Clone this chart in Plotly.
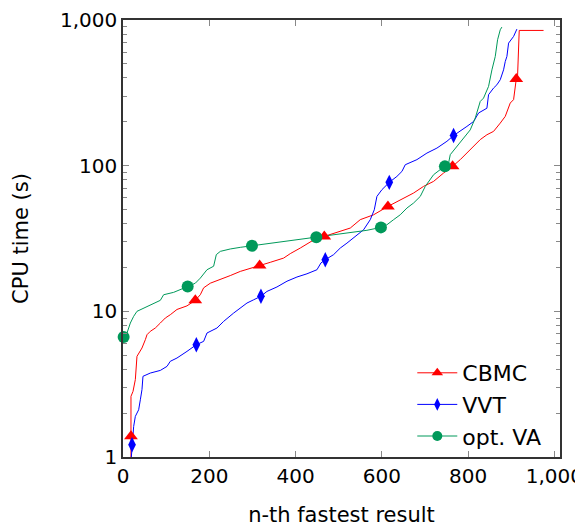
import plotly.graph_objects as go

# ---------------- data ----------------
cbmc_x = [18.5, 18.5, 18.5, 23.2, 28.6, 32.4, 38.6, 44.0, 51.8, 55.6, 63.3, 74.9, 86.5, 98.1,
          109.7, 125.1, 148.3, 167.6, 179.2, 186.9, 202.4, 225.6, 248.7, 271.9, 295.1, 316.7,
          341.4, 372.3, 387.8, 411.0, 434.1, 449.6, 466.6, 503.7, 526.8, 550.0, 580.9, 614.1,
          642.7, 673.6, 696.8, 720.0, 743.1, 764.0, 781.8, 804.9, 828.1, 843.6, 859.0, 874.5,
          886.1, 897.6, 905.4, 911.6, 914.6, 918.5, 974.9]
cbmc_y = [1.0, 1.386, 2.61, 2.82, 3.40, 4.91, 5.31, 5.60, 6.39, 6.91, 7.29, 7.68, 8.31, 9.00,
          9.48, 10.3, 10.9, 11.9, 13.0, 14.5, 15.6, 16.5, 17.6, 18.8, 19.8, 20.6,
          21.7, 23.2, 24.9, 27.2, 29.7, 31.9, 32.7, 35.4, 37.3, 42.6, 46.0, 52.5,
          58.4, 64.9, 72.1, 78.0, 89.0, 98.9, 110, 129, 151, 163, 172, 196,
          218, 269, 284, 393, 410, 848, 848]
cbmc_mark_x = [18.5, 167.6, 316.7, 466.6, 614.1, 764.0, 911.6]
cbmc_mark_y = [1.386, 11.9, 20.6, 32.7, 52.5, 98.9, 393]

vvt_x = [19.3, 20.9, 24.7, 28.6, 36.3, 40.2, 44.0, 46.3, 63.3, 86.5, 102.0, 109.7, 125.1, 148.3,
         170.0, 186.9, 194.7, 217.8, 233.3, 256.5, 271.9, 287.4, 302.8, 319.8, 333.7, 356.9,
         380.1, 403.2, 426.4, 449.6, 458.9, 468.9, 488.2, 503.7, 519.1, 534.6, 557.7, 573.2,
         582.5, 588.6, 600.2, 617.2, 635.0, 646.6, 654.3, 681.3, 704.5, 727.7, 750.9, 766.3,
         781.8, 797.2, 812.7, 824.3, 843.6, 847.4, 859.0, 866.7, 874.5, 882.2, 886.1, 889.9,
         893.8, 905.4, 913.1]
vvt_y = [1.0, 1.215, 1.62, 1.90, 2.11, 2.47, 2.90, 3.58, 3.77, 3.93, 4.19, 4.54, 4.78, 5.31,
         5.90, 6.22, 7.10, 7.68, 8.53, 9.73, 10.5, 11.4, 12.0, 12.7, 13.7, 14.7,
         16.1, 17.2, 18.1, 19.3, 21.5, 22.6, 24.5, 27.2, 29.4, 31.9, 36.3, 42.6,
         49.8, 61.5, 68.4, 76.8, 84.4, 91.3, 101.5, 110, 122, 132, 147, 161,
         172, 186, 201, 230, 248, 307, 341, 359, 389, 455, 519, 562,
         694, 771, 866]
vvt_mark_x = [20.9, 170.0, 319.8, 468.9, 617.2, 766.3]
vvt_mark_y = [1.215, 5.90, 12.7, 22.6, 76.8, 161]

va_x = [1.5, 9.3, 17.0, 24.7, 32.4, 44.0, 63.3, 86.5, 94.2, 117.4, 149.9, 167.6, 179.2, 194.7,
        210.1, 216.3, 225.6, 248.7, 271.9, 299.0, 333.7, 380.1, 418.7, 448.1, 488.2, 526.8,
        565.5, 597.9, 611.8, 627.3, 642.7, 658.2, 673.6, 689.1, 700.7, 720.0, 746.2, 754.7,
        758.6, 774.0, 789.5, 804.9, 816.5, 828.1, 835.8, 847.4, 855.2, 862.9, 868.3, 874.5,
        878.3]
va_y = [6.66, 7.10, 8.31, 9.24, 10.0, 10.4, 11.1, 11.9, 13.0, 13.5, 14.8, 15.6, 16.9, 19.3,
        20.4, 24.5, 25.8, 26.8, 27.5, 28.2, 29.0, 30.2, 31.3, 32.2, 33.6, 34.5,
        36.0, 37.7, 39.3, 42.6, 46.0, 51.2, 55.4, 61.5, 72.1, 86.7, 98.9, 104,
        119, 136, 155, 176, 212, 276, 291, 350, 455, 562, 732, 857,
        894]
va_mark_x = [1.5, 149.9, 299.0, 448.1, 597.9, 746.2]
va_mark_y = [6.66, 14.8, 28.2, 32.2, 37.7, 98.9]

series = [
    ("CBMC", cbmc_x, cbmc_y, cbmc_mark_x, cbmc_mark_y, "#ff0000", "triangle-up", 12),
    ("VVT", vvt_x, vvt_y, vvt_mark_x, vvt_mark_y, "#0000ff", "diamond-tall", 11),
    ("opt. VA", va_x, va_y, va_mark_x, va_mark_y, "#00995a", "circle", 12),
]

x_ticks = [0, 200, 400, 600, 800, 1000]
x_ticktext = ["0", "200", "400", "600", "800", "1,000"]
y_ticks = [1, 10, 100, 1000]
y_ticktext = ["1", "10", "100", "1,000"]
y_minor = [m * d for d in (1, 10, 100) for m in range(2, 10)]

FONT = "DejaVu Sans"

fig = go.Figure()
for name, xs, ys, mx, my, col, sym, sz in series:
    fig.add_trace(go.Scatter(x=xs, y=ys, mode="lines", line=dict(color=col, width=1),
                             showlegend=False, hoverinfo="skip"))
for name, xs, ys, mx, my, col, sym, sz in series:
    fig.add_trace(go.Scatter(x=mx, y=my, mode="markers",
                             marker=dict(color=col, symbol=sym, size=sz, line=dict(width=0)),
                             showlegend=False, cliponaxis=False))
for name, xs, ys, mx, my, col, sym, sz in series:
    fig.add_trace(go.Scatter(x=[None], y=[None], mode="lines+markers", name=name,
                             line=dict(color=col, width=1),
                             marker=dict(color=col, symbol=sym, size=sz - 2)))

# page body has an 8px default margin, so the figure is sized 8px smaller
fig.update_layout(
    width=575, height=519,
    margin=dict(l=115, r=23, t=12, b=70),
    plot_bgcolor="white", paper_bgcolor="white",
    font=dict(family=FONT, size=20, color="black"),
    legend=dict(x=0.662, y=0.0, xanchor="left", yanchor="bottom",
                bgcolor="rgba(255,255,255,0)", borderwidth=0,
                font=dict(family=FONT, size=22), tracegroupgap=0, itemwidth=40),
)
fig.update_xaxes(
    range=[0, 1013], tickvals=x_ticks, ticktext=x_ticktext, automargin=False,
    ticklabeloverflow="allow",
    ticks="inside", ticklen=6, tickcolor="#888", tickwidth=1,
    showline=True, linecolor="#333", linewidth=1.5, mirror="ticks",
    showgrid=False, zeroline=False,
    tickfont=dict(family=FONT, size=20),
    title=dict(text="n-th fastest result", font=dict(family=FONT, size=21), standoff=23),
)
fig.update_yaxes(
    type="log", range=[0, 3], tickvals=y_ticks, ticktext=y_ticktext, automargin=False,
    ticklabeloverflow="allow",
    ticks="inside", ticklen=6, tickcolor="#888", tickwidth=1,
    showline=True, linecolor="#333", linewidth=1.5, mirror="ticks",
    showgrid=False, zeroline=False,
    minor=dict(tickvals=y_minor, ticks="inside", ticklen=4, tickcolor="#888", showgrid=False),
    tickfont=dict(family=FONT, size=20),
    title=dict(text="CPU time (s)", font=dict(family=FONT, size=21), standoff=26),
)

fig.write_html("out.html")
